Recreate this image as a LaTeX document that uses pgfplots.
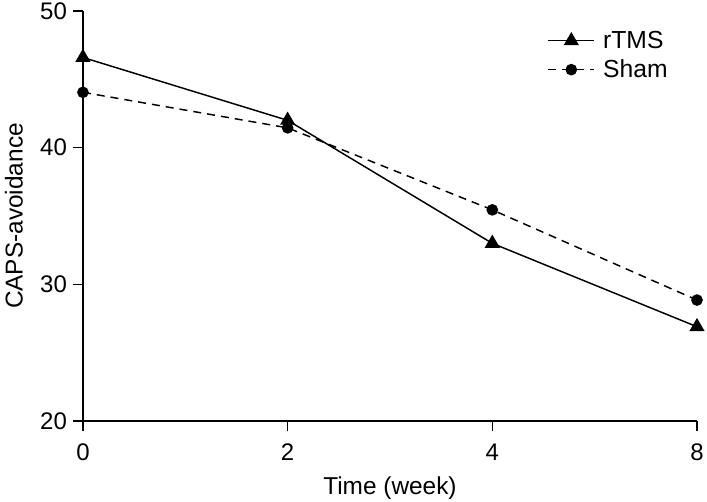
\documentclass[border=0pt]{standalone}
\usepackage{pgfplots}
\pgfplotsset{compat=1.18}
\usepackage{fontspec}
\setmainfont{Liberation Sans}
\begin{document}
\begin{tikzpicture}
\begin{axis}[
  scale only axis,
  width=460.5pt, height=307.5pt,
  xmin=0, xmax=3, ymin=20, ymax=50,
  xtick={0,1,2,3}, xticklabels={0,2,4,8},
  ytick={20,30,40,50},
  axis x line*=bottom, axis y line*=left,
  tick align=outside,
  major tick length=7.5pt,
  tick style={black, line width=1pt},
  axis line style={line width=1pt},
  /pgf/number format/assume math mode=true,
  ticklabel style={font=\fontsize{18}{22}\selectfont},
  xticklabel style={yshift=-6pt},
  yticklabel style={xshift=-1pt},
  label style={font=\fontsize{18.3}{22}\selectfont},
  xlabel={Time (week)},
  ylabel={CAPS-avoidance},
  xlabel style={at={(axis description cs:0.5,-0.163)}, anchor=center},
  ylabel style={at={(axis description cs:-0.1123,0.5)}, anchor=center},
  legend style={draw=none, fill=none, at={(axis description cs:0.756,0.958)}, anchor=north west,
    font=\fontsize{18.5}{22}\selectfont, row sep=3pt, inner sep=0pt},
  legend cell align=left,
  legend image code/.code={%
    \draw[#1, mark repeat=2, mark phase=2] plot coordinates {(0cm,0cm) (0.61cm,0cm) (1.22cm,0cm)};},
  clip=false,
]
\addplot[black, line width=1.1pt, mark=triangle*, mark size=5.5pt]
  coordinates {(0,46.6) (1,42.0) (2,33.0) (3,26.9)};
\addlegendentry{\hspace{4pt}rTMS}
\addplot[black, line width=1.1pt, dash pattern=on 6pt off 4.5pt, mark=*, mark size=3.8pt, mark options={solid}]
  coordinates {(0,44.05) (1,41.45) (2,35.45) (3,28.85)};
\addlegendentry{\hspace{4pt}Sham}
\coordinate (ll) at (rel axis cs:0,0);
\coordinate (ur) at (rel axis cs:1,1);
\end{axis}
\pgfresetboundingbox
\path ([shift={(-62.2pt,-60.7pt)}]ll) rectangle ([shift={(7.5pt,8.25pt)}]ur);
\end{tikzpicture}
\end{document}
